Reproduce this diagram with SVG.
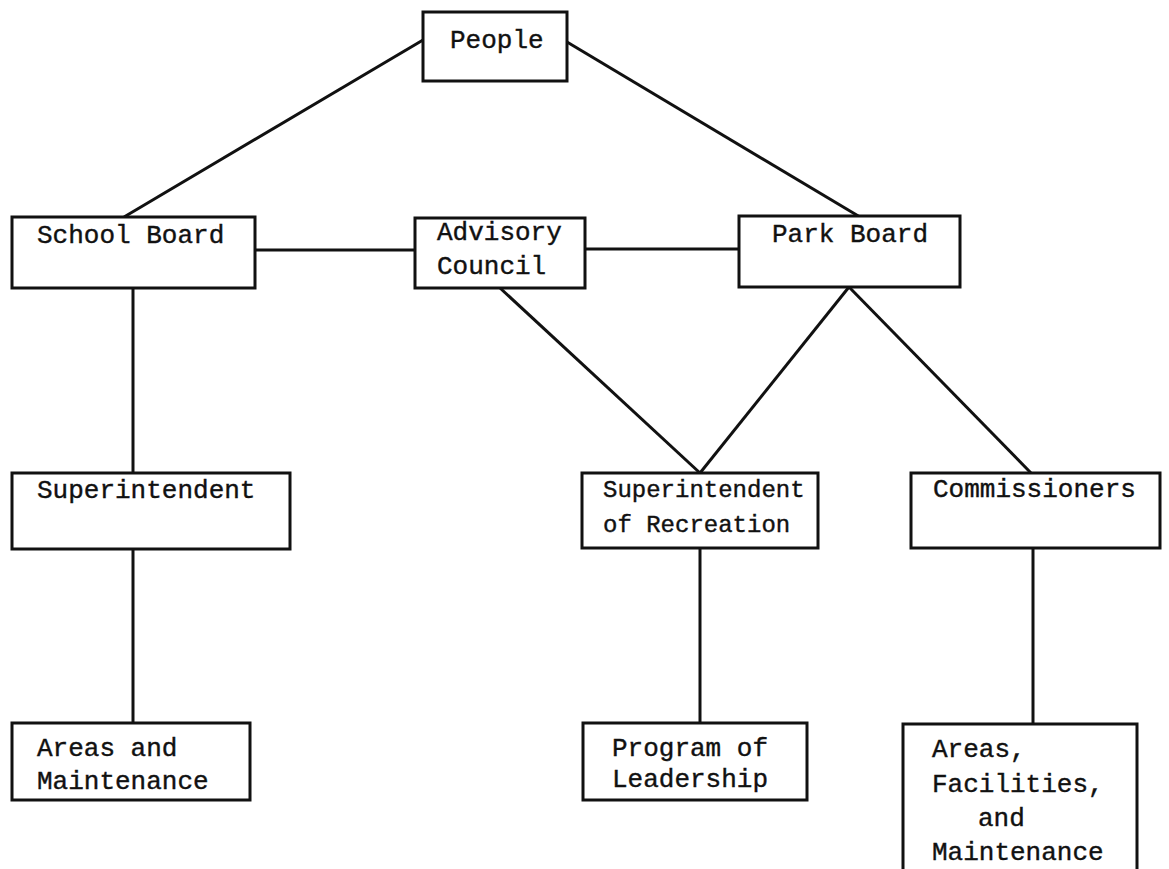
<svg xmlns="http://www.w3.org/2000/svg" width="1169" height="869" viewBox="0 0 1169 869">
<style>
.box{fill:#fff;stroke:#111;stroke-width:3}
.ln{stroke:#111;stroke-width:3;fill:none}
.t{font-family:"Liberation Mono","Courier New",monospace;font-size:26px;fill:#111;stroke:#111;stroke-width:0.4}
.s{font-size:24px}
</style>
<rect width="1169" height="869" fill="#fff"/>
<g id="connectors">
<line class="ln" x1="423" y1="40" x2="124" y2="217"/>
<line class="ln" x1="567" y1="42" x2="860" y2="217"/>
<line class="ln" x1="255" y1="250" x2="415" y2="250"/>
<line class="ln" x1="585" y1="249" x2="739" y2="249"/>
<line class="ln" x1="133" y1="288" x2="133" y2="473"/>
<line class="ln" x1="133" y1="549" x2="133" y2="723"/>
<line class="ln" x1="500" y1="288" x2="700" y2="473"/>
<line class="ln" x1="849" y1="287" x2="700" y2="473"/>
<line class="ln" x1="849" y1="287" x2="1031" y2="473"/>
<line class="ln" x1="700" y1="548" x2="700" y2="723"/>
<line class="ln" x1="1033" y1="548" x2="1033" y2="724"/>
</g>
<g id="people"><rect class="box" x="423" y="12" width="144" height="69"/><text class="t" x="450" y="48">People</text></g>
<g id="school-board"><rect class="box" x="12" y="217" width="243" height="71"/><text class="t" x="37" y="243">School Board</text></g>
<g id="advisory-council"><rect class="box" x="415" y="218" width="170" height="70"/><text class="t" x="437" y="240">Advisory</text><text class="t" x="437" y="274">Council</text></g>
<g id="park-board"><rect class="box" x="739" y="216" width="221" height="71"/><text class="t" x="772" y="242">Park Board</text></g>
<g id="superintendent"><rect class="box" x="12" y="473" width="278" height="76"/><text class="t" x="37" y="498">Superintendent</text></g>
<g id="superintendent-recreation"><rect class="box" x="582" y="473" width="236" height="75"/><text class="t s" x="603" y="497">Superintendent</text><text class="t s" x="603" y="532">of Recreation</text></g>
<g id="commissioners"><rect class="box" x="911" y="473" width="249" height="75"/><text class="t" x="933" y="497">Commissioners</text></g>
<g id="areas-maintenance"><rect class="box" x="12" y="723" width="238" height="77"/><text class="t" x="37" y="756">Areas and</text><text class="t" x="37" y="789">Maintenance</text></g>
<g id="program-leadership"><rect class="box" x="583" y="723" width="224" height="77"/><text class="t" x="612" y="756">Program of</text><text class="t" x="612" y="787">Leadership</text></g>
<g id="areas-facilities"><path class="ln" d="M903 875 V724 H1137 V875"/><text class="t" x="932" y="757">Areas,</text><text class="t" x="932" y="792">Facilities,</text><text class="t" x="978" y="826">and</text><text class="t" x="932" y="860">Maintenance</text></g>
</svg>
